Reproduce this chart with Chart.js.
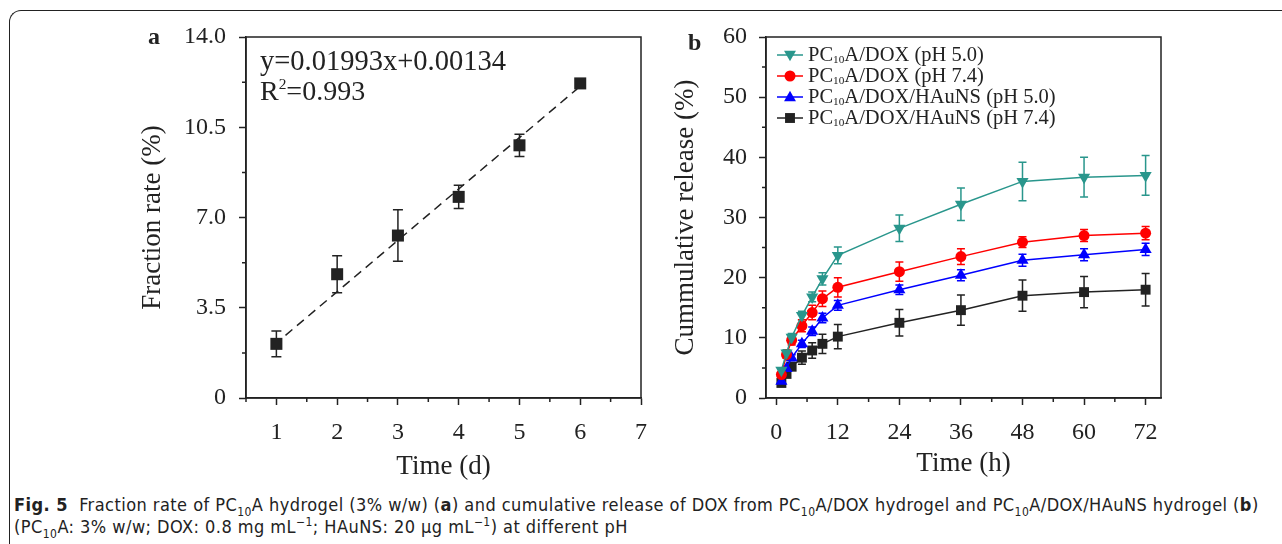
<!DOCTYPE html>
<html>
<head>
<meta charset="utf-8">
<script src="https://cdn.jsdelivr.net/npm/chart.js@4.4.1/dist/chart.umd.min.js"></script>
<style>
  html, body { margin: 0; padding: 0; background: #fff; }
  #page { position: relative; width: 1282px; height: 544px; overflow: hidden; }
  #frame { position: absolute; left: 9px; top: 10px; width: 1320px; height: 580px;
           border-top: 1.5px solid #222; border-left: 1.5px solid #222; border-top-left-radius: 12px; }
  #chartA { position: absolute; left: 120px; top: 0; }
  #chartB { position: absolute; left: 650px; top: 0; }
  #caption { position: absolute; left: 14px; top: 494px; color: #222; white-space: nowrap;
             font-family: "Liberation Sans Narrow", "DejaVu Sans Condensed", Roboto, sans-serif;
             font-size: 18px; line-height: 22px; letter-spacing: 0.45px; }
  #caption sub, #caption sup { font-size: 12px; line-height: 0; }
</style>
</head>
<body>
<div id="page">
  <div id="frame"></div>
  <canvas id="chartA" width="540" height="490"></canvas>
  <canvas id="chartB" width="550" height="490"></canvas>
  <div id="caption"><b>Fig. 5</b>&nbsp; Fraction rate of PC<sub>10</sub>A hydrogel (3% w/w) (<b>a</b>) and cumulative release of DOX from PC<sub>10</sub>A/DOX hydrogel and PC<sub>10</sub>A/DOX/HAuNS hydrogel (<b>b</b>)<br>(PC<sub>10</sub>A: 3% w/w; DOX: 0.8 mg mL<sup>−1</sup>; HAuNS: 20 μg mL<sup>−1</sup>) at different pH</div>
</div>
<script>
// panel a - fraction rate
const days = [1, 2, 3, 4, 5, 6];
const fractionRate = [2.1, 4.8, 6.3, 7.8, 9.8, 12.2];
const fractionErr = [0.5, 0.72, 1.0, 0.45, 0.43, 0.15];
const fitX = [1.15, 5.95];
const fitY = [2.43, 11.99];
const dayTicks = [0.5, 1, 1.5, 2, 2.5, 3, 3.5, 4, 4.5, 5, 5.5, 6, 6.5, 7];
const rateTicks = [0, 1.75, 3.5, 5.25, 7, 8.75, 10.5, 12.25, 14];

// panel b - cumulative release
const hours = [1, 2, 3, 5, 7, 9, 12, 24, 36, 48, 60, 72];
const dox50 = [4.6, 7.5, 10.1, 13.7, 16.8, 19.8, 23.7, 28.2, 32.2, 36.0, 36.7, 37.0];
const dox50Err = [0.3, 0.5, 0.6, 0.7, 0.8, 1.0, 1.4, 2.2, 2.7, 3.2, 3.3, 3.3];
const dox74 = [3.9, 7.2, 9.6, 12.0, 14.2, 16.5, 18.4, 21.0, 23.5, 25.9, 27.0, 27.4];
const dox74Err = [0.3, 0.6, 0.8, 1.0, 1.2, 1.3, 1.6, 1.6, 1.3, 0.9, 1.0, 1.1];
const hauns50 = [2.8, 4.9, 6.7, 9.0, 11.1, 13.3, 15.4, 18.0, 20.4, 22.9, 23.8, 24.7];
const hauns50Err = [0.3, 0.4, 0.5, 0.6, 0.7, 0.8, 0.8, 0.8, 0.9, 1.0, 1.0, 1.0];
const hauns74 = [2.5, 4.0, 5.2, 6.7, 7.9, 9.0, 10.2, 12.5, 14.6, 17.0, 17.6, 18.0];
const hauns74Err = [0.3, 0.4, 0.6, 1.1, 1.3, 1.6, 2.0, 2.2, 2.5, 2.6, 2.6, 2.7];
const seriesNames = ['PC_{10}A/DOX (pH 5.0)', 'PC_{10}A/DOX (pH 7.4)',
                     'PC_{10}A/DOX/HAuNS (pH 5.0)', 'PC_{10}A/DOX/HAuNS (pH 7.4)'];
const hourTicks = [0, 6, 12, 18, 24, 30, 36, 42, 48, 54, 60, 66, 72];
const releaseTicks = [0, 5, 10, 15, 20, 25, 30, 35, 40, 45, 50, 55, 60];

const serif = '"Liberation Serif", "Times New Roman", serif';
const ink = '#222';

const toPoints = (xs, ys) => xs.map((x, i) => ({ x: x, y: ys[i] }));

// error bars, drawn under the markers
const errorBars = {
  id: 'errorBars',
  beforeDatasetsDraw(chart) {
    const ctx = chart.ctx;
    const xs = chart.scales.x, ys = chart.scales.y;
    chart.data.datasets.forEach(ds => {
      if (!ds.errors) return;
      ctx.save();
      ctx.strokeStyle = ds.borderColor;
      ctx.lineWidth = 1.5;
      ds.data.forEach((p, j) => {
        const px = xs.getPixelForValue(p.x);
        const top = ys.getPixelForValue(p.y + ds.errors[j]);
        const bot = ys.getPixelForValue(p.y - ds.errors[j]);
        const w = ds.capWidth;
        ctx.beginPath();
        ctx.moveTo(px, top); ctx.lineTo(px, bot);
        ctx.moveTo(px - w, top); ctx.lineTo(px + w, top);
        ctx.moveTo(px - w, bot); ctx.lineTo(px + w, bot);
        ctx.stroke();
      });
      ctx.restore();
    });
  }
};

// box around plot + short minor ticks
const frameAndMinor = {
  id: 'frameAndMinor',
  afterDraw(chart) {
    const ctx = chart.ctx;
    const a = chart.chartArea;
    ctx.save();
    ctx.strokeStyle = ink;
    ctx.lineWidth = 1.5;
    ctx.strokeRect(a.left, a.top, a.right - a.left, a.bottom - a.top);
    ctx.beginPath();
    chart.scales.x.ticks.forEach(t => {
      if (t.label !== '') return;
      const px = chart.scales.x.getPixelForValue(t.value);
      ctx.moveTo(px, a.bottom); ctx.lineTo(px, a.bottom + 4);
    });
    chart.scales.y.ticks.forEach(t => {
      if (t.label !== '') return;
      const py = chart.scales.y.getPixelForValue(t.value);
      ctx.moveTo(a.left, py); ctx.lineTo(a.left - 4, py);
    });
    ctx.stroke();
    ctx.restore();
  }
};

// text with _{sub} and ^{sup} pieces
function drawRich(ctx, str, x, y, size) {
  const parts = str.split(/([_^]\{[^}]*\})/);
  parts.forEach(part => {
    if (!part) return;
    let txt = part, fs = size, dy = 0;
    if (part[0] === '_') { txt = part.slice(2, -1); fs = size * 0.55; dy = size * 0.22; }
    if (part[0] === '^') { txt = part.slice(2, -1); fs = size * 0.55; dy = -size * 0.38; }
    ctx.font = fs + 'px ' + serif;
    ctx.fillText(txt, x, y + dy);
    x += ctx.measureText(txt).width;
  });
}

function drawMarker(ctx, style, x, y, r, color, rot) {
  ctx.fillStyle = color;
  ctx.beginPath();
  if (style === 'circle') {
    ctx.arc(x, y, r, 0, Math.PI * 2);
  } else if (style === 'rect') {
    const s = r * 0.707;
    ctx.rect(x - s, y - s, 2 * s, 2 * s);
  } else {
    const d = rot ? -1 : 1;
    const h = r * 1.5 / 2;
    ctx.moveTo(x, y - d * h * 1.2);
    ctx.lineTo(x + r * 0.85, y + d * h * 0.8);
    ctx.lineTo(x - r * 0.85, y + d * h * 0.8);
    ctx.closePath();
  }
  ctx.fill();
}

const panelTextA = {
  id: 'panelTextA',
  afterDraw(chart) {
    const ctx = chart.ctx;
    ctx.save();
    ctx.fillStyle = ink;
    ctx.textBaseline = 'alphabetic';
    ctx.font = 'bold 24px ' + serif;
    ctx.fillText('a', 28, 44);
    drawRich(ctx, 'y=0.01993x+0.00134', 140, 70, 28.5);
    drawRich(ctx, 'R^{2}=0.993', 140, 100, 28);
    ctx.restore();
  }
};

const panelTextB = {
  id: 'panelTextB',
  afterDraw(chart) {
    const ctx = chart.ctx;
    ctx.save();
    ctx.fillStyle = ink;
    ctx.textBaseline = 'alphabetic';
    ctx.font = 'bold 24px ' + serif;
    ctx.fillText('b', 38, 50);
    chart.data.datasets.forEach((ds, i) => {
      const y = 55 + i * 21;
      ctx.strokeStyle = ds.borderColor;
      ctx.lineWidth = 1.5;
      ctx.beginPath();
      ctx.moveTo(127, y); ctx.lineTo(153, y);
      ctx.stroke();
      drawMarker(ctx, ds.pointStyle, 140, y, ds.pointRadius, ds.backgroundColor, ds.pointRotation);
      ctx.fillStyle = ink;
      ctx.textBaseline = 'middle';
      drawRich(ctx, seriesNames[i], 158, y + 1, 20.5);
    });
    ctx.restore();
  }
};

function axis(tickValues, min, max, labelFn, title, titlePad, width, height, labelPad) {
  return {
    type: 'linear', min: min, max: max,
    afterBuildTicks: s => { s.ticks = tickValues.map(v => ({ value: v })); },
    afterFit: s => { if (width) s.width = width; if (height) s.height = height; },
    grid: { drawOnChartArea: false, tickLength: 7, tickWidth: 1.5,
            tickColor: c => (c.tick && c.tick.label === '') ? 'rgba(0,0,0,0)' : ink },
    border: { color: ink, width: 1.5 },
    ticks: { callback: labelFn, color: ink, padding: labelPad, maxRotation: 0, autoSkip: false,
             font: { family: serif, size: 24 } },
    title: { display: true, text: title, color: ink, padding: titlePad,
             font: { family: serif, size: 27 } }
  };
}

new Chart(document.getElementById('chartA'), {
  type: 'scatter',
  data: {
    datasets: [{
      data: toPoints(days, fractionRate),
      errors: fractionErr, capWidth: 5,
      borderColor: ink, backgroundColor: ink,
      pointStyle: 'rect', pointRadius: 8.5, pointHoverRadius: 8.5, borderWidth: 0
    }, {
      data: toPoints(fitX, fitY),
      showLine: true, borderColor: ink, borderWidth: 1.5, borderDash: [9, 6],
      pointRadius: 0
    }]
  },
  options: {
    responsive: false, animation: false,
    layout: { padding: { top: 37, right: 18, left: 0, bottom: 0 } },
    plugins: { legend: { display: false }, tooltip: { enabled: false } },
    scales: {
      x: axis(dayTicks, 0.5, 7, v => Number.isInteger(v) ? String(v) : '', 'Time (d)',
              { top: 0, bottom: 7 }, null, 92, 13),
      y: axis(rateTicks, 0, 14, v => v % 3.5 === 0 ? (v === 0 ? '0' : v.toFixed(1)) : '',
              'Fraction rate (%)', { top: 17, bottom: 0 }, 126, null, 13)
    }
  },
  plugins: [errorBars, frameAndMinor, panelTextA]
});

const series = [
  { y: dox50, err: dox50Err, color: '#29968c', style: 'triangle', rot: 180, r: 7 },
  { y: dox74, err: dox74Err, color: '#ff0000', style: 'circle', rot: 0, r: 5.5 },
  { y: hauns50, err: hauns50Err, color: '#0000ff', style: 'triangle', rot: 0, r: 7 },
  { y: hauns74, err: hauns74Err, color: '#222222', style: 'rect', rot: 0, r: 7 }
];

new Chart(document.getElementById('chartB'), {
  type: 'line',
  data: {
    datasets: series.map(s => ({
      data: toPoints(hours, s.y),
      errors: s.err, capWidth: 4,
      borderColor: s.color, backgroundColor: s.color, borderWidth: 1.5,
      pointStyle: s.style, pointRotation: s.rot, pointRadius: s.r, pointHoverRadius: s.r,
      pointBorderWidth: 0, tension: 0
    }))
  },
  options: {
    responsive: false, animation: false,
    layout: { padding: { top: 37, right: 39, left: 0, bottom: 0 } },
    plugins: { legend: { display: false }, tooltip: { enabled: false } },
    scales: {
      x: axis(hourTicks, -2, 75, v => v % 12 === 0 ? String(v) : '', 'Time (h)',
              { top: 0, bottom: 10 }, null, 92, 13),
      y: axis(releaseTicks, 0, 60, v => v % 10 === 0 ? String(v) : '',
              'Cummulative release (%)', { top: 20, bottom: 0 }, 116, null, 12)
    }
  },
  plugins: [errorBars, frameAndMinor, panelTextB]
});
</script>
</body>
</html>
